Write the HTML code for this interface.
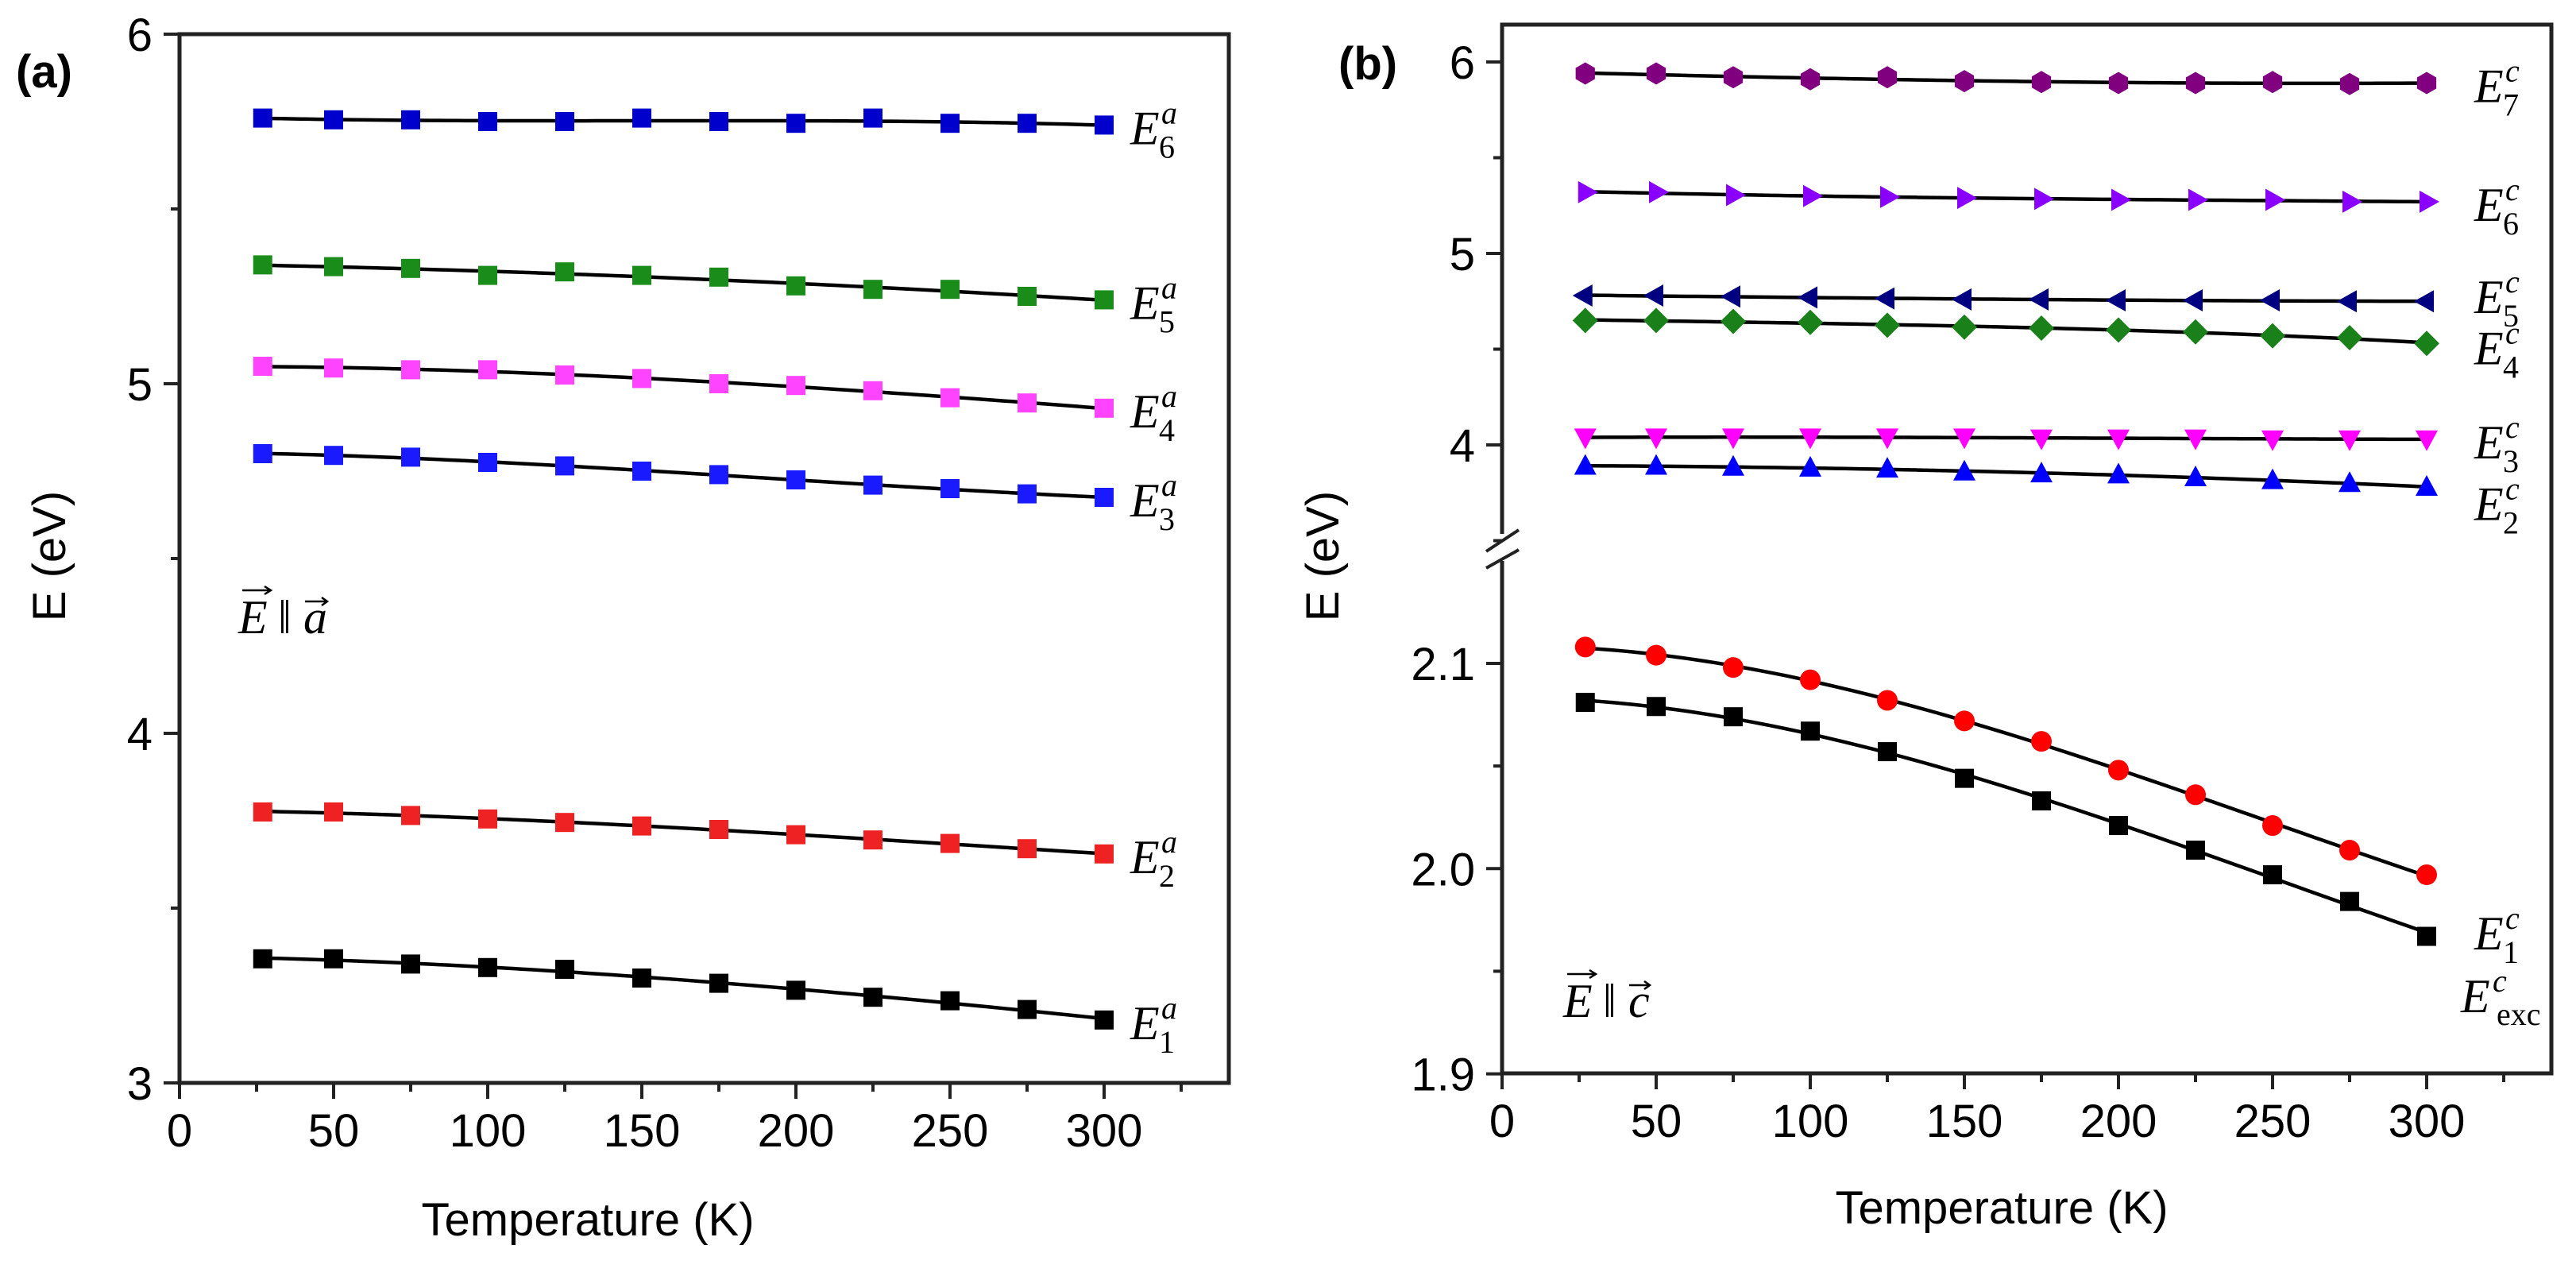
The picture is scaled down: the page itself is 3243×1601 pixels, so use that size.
<!DOCTYPE html>
<html><head><meta charset="utf-8"><style>
html,body{margin:0;padding:0;background:#fff;}
svg{display:block;font-family:"Liberation Sans",sans-serif;}
.lbl{font-family:"Liberation Serif",serif;font-style:italic;font-size:60px;}
.sub{font-family:"Liberation Serif",serif;font-size:40px;}
.tk{font-size:58px;}
</style></head><body>
<svg id="chart" width="3243" height="1601" viewBox="0 0 3243 1601" xmlns="http://www.w3.org/2000/svg"></svg>
<script>
const temps=[27,50,75,100,125,150,175,200,225,250,275,300];
const aE6=[5.76,5.755,5.755,5.75,5.75,5.76,5.75,5.745,5.76,5.745,5.745,5.74];
const aE5=[5.34,5.335,5.33,5.31,5.32,5.31,5.305,5.28,5.27,5.27,5.25,5.24];
const aE4=[5.05,5.045,5.04,5.04,5.025,5.015,5.0,4.995,4.98,4.96,4.945,4.93];
const aE3=[4.80,4.795,4.79,4.775,4.765,4.75,4.74,4.725,4.71,4.70,4.685,4.675];
const aE2=[3.775,3.775,3.765,3.755,3.745,3.735,3.725,3.71,3.695,3.685,3.67,3.655];
const aE1=[3.355,3.355,3.34,3.33,3.325,3.30,3.285,3.265,3.245,3.235,3.21,3.18];
const cE7=[5.94,5.94,5.92,5.91,5.92,5.90,5.895,5.89,5.89,5.895,5.885,5.89];
const cE6=[5.32,5.32,5.305,5.30,5.295,5.29,5.285,5.28,5.28,5.28,5.27,5.27];
const cE5=[4.78,4.78,4.775,4.77,4.765,4.76,4.76,4.755,4.755,4.755,4.75,4.75];
const cE4=[4.65,4.65,4.645,4.64,4.625,4.615,4.61,4.60,4.59,4.57,4.56,4.53];
const cE3=[4.04,4.04,4.04,4.04,4.04,4.04,4.035,4.035,4.035,4.03,4.03,4.03];
const cE2=[3.89,3.89,3.885,3.88,3.875,3.86,3.85,3.845,3.83,3.815,3.80,3.78];
const cE1=[2.108,2.104,2.098,2.092,2.082,2.072,2.062,2.048,2.036,2.021,2.009,1.997];
const cExc=[2.081,2.079,2.074,2.067,2.057,2.044,2.033,2.021,2.009,1.997,1.984,1.967];
const xTicks=[0,50,100,150,200,250,300];
const aYTicks=[3,4,5,6];
const cYTicksUp=[4,5,6];
const cYTicksLow=[1.9,2.0,2.1];

const NS="http://www.w3.org/2000/svg";
const svg=document.getElementById('chart');
function el(tag,attrs,parent){const e=document.createElementNS(NS,tag);for(const k in attrs)e.setAttribute(k,attrs[k]);(parent||svg).appendChild(e);return e;}
function txt(x,y,s,cls,anchor,parent){const t=el('text',{x:x,y:y,class:cls||'tk','text-anchor':anchor||'middle'},parent);t.textContent=s;return t;}

const xa=t=>226+t*3.88;
const ya=v=>43+(6-v)*440;
const xb=t=>1891+t*3.88;
const ybU=v=>78+(6-v)*241;
const ybL=v=>835+(2.1-v)*2583;

// smooth fit: least-squares cubic in T
function fitFn(vals){
  const n=4,A=[],b=[];
  for(let i=0;i<n;i++){A.push(new Array(n).fill(0));b.push(0);}
  temps.forEach((t,k)=>{const u=t/300;const p=[1,u,u*u,u*u*u];
    for(let i=0;i<n;i++){b[i]+=p[i]*vals[k];for(let j=0;j<n;j++)A[i][j]+=p[i]*p[j];}});
  for(let i=0;i<n;i++){let m=i;for(let r=i+1;r<n;r++)if(Math.abs(A[r][i])>Math.abs(A[m][i]))m=r;
    [A[i],A[m]]=[A[m],A[i]];[b[i],b[m]]=[b[m],b[i]];
    for(let r=0;r<n;r++)if(r!==i){const f=A[r][i]/A[i][i];for(let j=i;j<n;j++)A[r][j]-=f*A[i][j];b[r]-=f*b[i];}}
  const c=b.map((v,i)=>v/A[i][i]);
  return t=>{const u=t/300;return c[0]+c[1]*u+c[2]*u*u+c[3]*u*u*u;};
}

function marker(g,shape,x,y,color){
  const s=12;let m;
  if(shape==='sq') m=el('rect',{x:x-s,y:y-s,width:2*s,height:2*s,fill:color},g);
  else if(shape==='circ') m=el('circle',{cx:x,cy:y,r:13,fill:color},g);
  else {let p;
    if(shape==='hex'){p=[];for(let i=0;i<6;i++){const a=Math.PI/3*i+Math.PI/6;p.push([x+14*Math.cos(a),y+14*Math.sin(a)]);}}
    else if(shape==='up') p=[[x,y-15],[x+14,y+11],[x-14,y+11]];
    else if(shape==='down') p=[[x,y+15],[x+14,y-11],[x-14,y-11]];
    else if(shape==='right') p=[[x+16,y],[x-9,y-14],[x-9,y+14]];
    else if(shape==='left') p=[[x-16,y],[x+9,y-14],[x+9,y+14]];
    else if(shape==='dia') p=[[x,y-16],[x+16,y],[x,y+16],[x-16,y]];
    m=el('polygon',{points:p.map(q=>q.join(',')).join(' '),fill:color},g);}
  
  
}
function series(name,vals,xf,yf,shape,color){
  const g=el('g',{});
  
  
  const f=fitFn(vals);const pts=[];
  for(let t=temps[0];t<=temps[temps.length-1]+0.01;t+=3)pts.push(xf(t)+','+yf(f(t)));
  const ln=el('polyline',{points:pts.join(' '),fill:'none',stroke:'#000','stroke-width':4.5},g);
  
  
  temps.forEach((t,i)=>marker(g,shape,xf(t),yf(vals[i]),color));
}
function slabel(x,y,sup,sub,name){
  const g=el('g',{});
  
  
  txt(x,y,'E','lbl','start',g);
  txt(x+39,y-26,sup,'sub','start',g).setAttribute('font-style','italic');
  txt(x+36,y+17,sub,'sub','start',g);
}

// ---------- Panel (a)
const ga=el('g',{});


el('rect',{x:226,y:43,width:1321,height:1320,fill:'none',stroke:'#222','stroke-width':5},ga);
for(let t=0;t<=325;t+=25){const big=t%50===0;el('line',{x1:xa(t),y1:1363,x2:xa(t),y2:1363+(big?20:11),stroke:'#222','stroke-width':4},ga);}
xTicks.forEach(t=>txt(xa(t),1443,String(t),'tk','middle',ga));
for(let v=3;v<=6;v+=0.5){const big=Number.isInteger(v);el('line',{x1:226,y1:ya(v),x2:226-(big?20:11),y2:ya(v),stroke:'#222','stroke-width':4},ga);}
aYTicks.forEach(v=>txt(192,ya(v)+21,String(v),'tk','end',ga));
txt(740,1555,'Temperature (K)','tk','middle',ga).setAttribute('font-size','68');
const yta=txt(0,0,'E (eV)','tk','middle',ga);yta.setAttribute('font-size','68');yta.setAttribute('transform','translate(82,700) rotate(-90)');
const pa=txt(20,110,'(a)','tk','start',ga);pa.setAttribute('font-size','80');pa.setAttribute('font-weight','bold');
series('series-E6a',aE6,xa,ya,'sq','#0000cc');
series('series-E5a',aE5,xa,ya,'sq','#1a8c1a');
series('series-E4a',aE4,xa,ya,'sq','#ff44ff');
series('series-E3a',aE3,xa,ya,'sq','#1a1aff');
series('series-E2a',aE2,xa,ya,'sq','#ee2222');
series('series-E1a',aE1,xa,ya,'sq','#000000');
slabel(1423,ya(5.74)+24,'a','6','label-E6a');
slabel(1423,ya(5.24)+24,'a','5','label-E5a');
slabel(1423,ya(4.93)+24,'a','4','label-E4a');
slabel(1423,ya(4.675)+24,'a','3','label-E3a');
slabel(1423,ya(3.655)+24,'a','2','label-E2a');
slabel(1423,ya(3.18)+24,'a','1','label-E1a');
txt(300,797,'E','lbl','start',ga);
txt(350,797,'\u2016','lbl','start',ga).setAttribute('font-style','normal');
txt(382,797,'a','lbl','start',ga);
el('path',{d:'M305 743 h36 m-8 -5 l8 5 l-8 5 M384 757 h28 m-7 -5 l7 5 l-7 5',stroke:'#000','stroke-width':2.5,fill:'none'},ga);

// ---------- Panel (b)
const gb=el('g',{});


el('rect',{x:1891,y:31,width:1321,height:1320,fill:'none',stroke:'#222','stroke-width':5},gb);
el('rect',{x:1870,y:672,width:40,height:34,fill:'#fff'},gb);
el('line',{x1:1871,y1:694,x2:1912,y2:667,stroke:'#222','stroke-width':4},gb);
el('line',{x1:1871,y1:715,x2:1912,y2:692,stroke:'#222','stroke-width':4},gb);
for(let t=0;t<=325;t+=25){const big=t%50===0;el('line',{x1:xb(t),y1:1351,x2:xb(t),y2:1351+(big?20:11),stroke:'#222','stroke-width':4},gb);}
xTicks.forEach(t=>txt(xb(t),1431,String(t),'tk','middle',gb));
[3.5,4,4.5,5,5.5,6].forEach(v=>{const big=Number.isInteger(v);el('line',{x1:1891,y1:ybU(v),x2:1891-(big?20:11),y2:ybU(v),stroke:'#222','stroke-width':4},gb);});
[1.9,1.95,2.0,2.05,2.1].forEach(v=>{const big=Math.abs(v*10-Math.round(v*10))<1e-6;el('line',{x1:1891,y1:ybL(v),x2:1891-(big?20:11),y2:ybL(v),stroke:'#222','stroke-width':4},gb);});
cYTicksUp.forEach(v=>txt(1857,ybU(v)+21,String(v),'tk','end',gb));
cYTicksLow.forEach(v=>txt(1857,ybL(v)+21,v.toFixed(1),'tk','end',gb));
txt(2520,1540,'Temperature (K)','tk','middle',gb).setAttribute('font-size','68');
const ytb=txt(0,0,'E (eV)','tk','middle',gb);ytb.setAttribute('font-size','68');ytb.setAttribute('transform','translate(1685,700) rotate(-90)');
const pb=txt(1685,100,'(b)','tk','start',gb);pb.setAttribute('font-size','80');pb.setAttribute('font-weight','bold');
series('series-E7c',cE7,xb,ybU,'hex','#800080');
series('series-E6c',cE6,xb,ybU,'right','#8a00ff');
series('series-E5c',cE5,xb,ybU,'left','#000080');
series('series-E4c',cE4,xb,ybU,'dia','#1a801a');
series('series-E3c',cE3,xb,ybU,'down','#ff00ff');
series('series-E2c',cE2,xb,ybU,'up','#0000ff');
series('series-E1c',cE1,xb,ybL,'circ','#ff0000');
series('series-Eexc',cExc,xb,ybL,'sq','#000000');
slabel(3115,ybU(5.89)+24,'c','7','label-E7c');
slabel(3115,ybU(5.27)+24,'c','6','label-E6c');
slabel(3115,ybU(4.78)+22,'c','5','label-E5c');
slabel(3115,ybU(4.53)+26,'c','4','label-E4c');
slabel(3115,ybU(4.03)+24,'c','3','label-E3c');
slabel(3115,ybU(3.74)+32,'c','2','label-E2c');
slabel(3115,ybL(1.97)+24,'c','1','label-E1c');
const gx=el('g',{});


txt(3098,1274,'E','lbl','start',gx);
txt(3138,1248,'c','sub','start',gx).setAttribute('font-style','italic');
txt(3143,1290,'exc','sub','start',gx);
txt(1968,1280,'E','lbl','start',gb);
txt(2018,1280,'\u2016','lbl','start',gb).setAttribute('font-style','normal');
txt(2050,1280,'c','lbl','start',gb);
el('path',{d:'M1973 1226 h36 m-8 -5 l8 5 l-8 5 M2051 1240 h26 m-7 -5 l7 5 l-7 5',stroke:'#000','stroke-width':2.5,fill:'none'},gb);
</script>
</body></html>
